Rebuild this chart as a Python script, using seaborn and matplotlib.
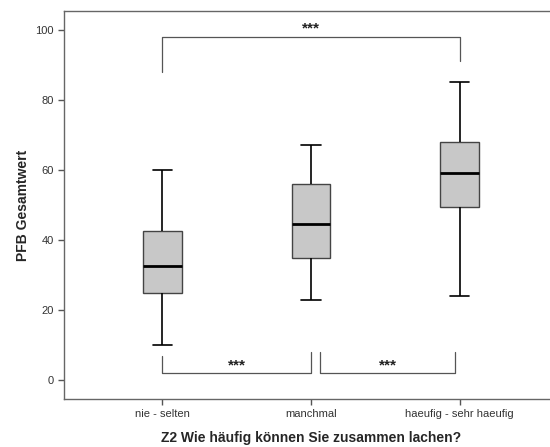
import matplotlib
matplotlib.use("Agg")
import matplotlib.pyplot as plt
import seaborn as sns
import pandas as pd

# data: whisker low, Q1, median, Q3, whisker high
categories = ["nie - selten", "manchmal", "haeufig - sehr haeufig"]
nie_selten = [10, 25, 32.5, 42.5, 60]
manchmal = [23, 35, 44.5, 56, 67]
haeufig = [24, 49.5, 59, 68, 85]

# significance brackets: (x left, x right, bar y, left leg end, right leg end, label)
brackets = [
    (0.0, 2.0, 98, 88, 91, "***"),
    (0.0, 1.0, 2, 7, 8, "***"),
    (1.06, 1.97, 2, 8, 8, "***"),
]

sns.set_style("white")
plt.rcParams["font.family"] = ["Liberation Sans", "DejaVu Sans"]

df = pd.DataFrame({
    "group": [categories[0]] * len(nie_selten) + [categories[1]] * len(manchmal) + [categories[2]] * len(haeufig),
    "value": nie_selten + manchmal + haeufig,
})

fig = plt.figure(figsize=(5.5, 4.47), dpi=100)
ax = fig.add_axes([64 / 550, 1 - 399 / 447, 494 / 550, 388 / 447])

sns.boxplot(data=df, x="group", y="value", order=categories, ax=ax,
            width=0.26, whis=3, color="#c8c8c8", saturation=1,
            boxprops=dict(edgecolor="#444444", linewidth=1),
            whiskerprops=dict(color="black", linewidth=1.2),
            capprops=dict(color="black", linewidth=1.2),
            medianprops=dict(color="black", linewidth=2),
            capwidths=0.13, showfliers=False)

for x0, x1, yb, y0, y1, lab in brackets:
    ax.plot([x0, x0, x1, x1], [y0, yb, yb, y1], color="#555555", linewidth=0.9)
    ax.text((x0 + x1) / 2, yb + 0.3, lab, ha="center", va="bottom",
            fontsize=11, fontweight="bold", color="#222222")

ax.set_xlim(-0.66, 2.66)
ax.set_ylim(-5.4, 105.4)
ax.set_yticks([0, 20, 40, 60, 80, 100])
ax.set_xlabel("Z2 Wie häufig können Sie zusammen lachen?", fontsize=10, fontweight="bold", labelpad=8)
ax.set_ylabel("PFB Gesamtwert", fontsize=10, fontweight="bold", labelpad=4)
ax.tick_params(axis="both", which="both", direction="out", length=4, width=1,
               color="#555555", labelsize=8, labelcolor="#333333", left=True, bottom=True)
for s in ax.spines.values():
    s.set_color("#666666")
    s.set_linewidth(1)

fig.savefig("out.png", dpi=100)
